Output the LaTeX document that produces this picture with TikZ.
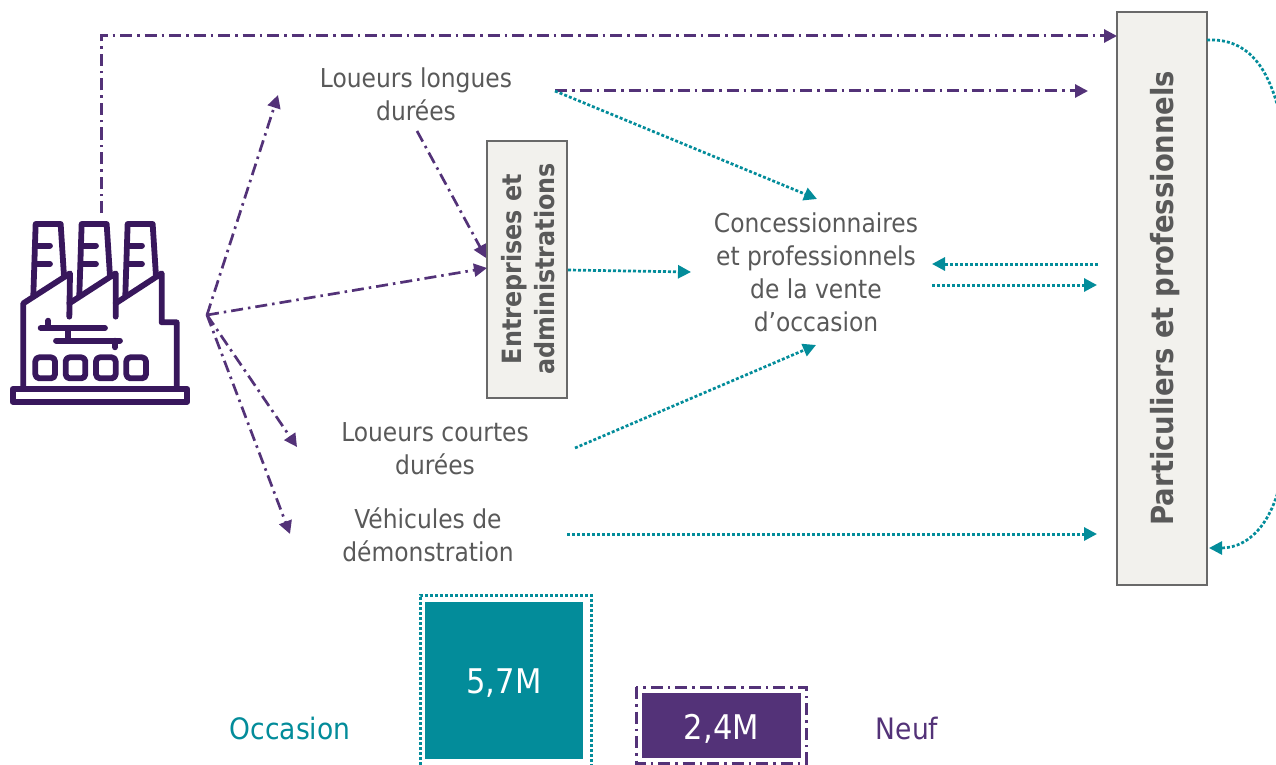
\documentclass[tikz,border=0pt]{standalone}
\usepackage{fontspec}
\setmainfont{DejaVu Sans Condensed}
\usetikzlibrary{arrows.meta}
\definecolor{tealc}{HTML}{038C9A}
\definecolor{purc}{HTML}{533278}
\definecolor{iconc}{HTML}{38175C}
\definecolor{txt}{HTML}{595959}
\definecolor{boxf}{HTML}{F2F1ED}
\definecolor{boxd}{HTML}{696969}
\tikzset{
 purarrow/.style={draw=purc,line width=2.7pt,dash pattern=on 12pt off 5pt on 2.5pt off 5pt,-{Triangle[length=13pt,width=13pt,fill=purc]}},
 purstraight/.style={purarrow,line width=3pt},
 tealarrow/.style={draw=tealc,line width=2.7pt,dash pattern=on 3pt off 2pt,-{Triangle[length=13pt,width=13pt,fill=tealc]}},
 tealstraight/.style={tealarrow,line width=3pt},
 lab/.style={text=txt,align=center,font=\fontsize{26}{33}\selectfont,inner sep=0pt},
 graybox/.style={draw=boxd,fill=boxf,line width=2.6pt,inner sep=0pt,text=txt},
 icon/.style={draw=iconc,line width=5.8pt,line cap=round,line join=round},
 valbox/.style={inner sep=0pt,text=white,font=\fontsize{34}{36}\selectfont},
}
\begin{document}
\begin{tikzpicture}[x=1pt,y=-1pt]
\useasboundingbox (0,0) rectangle (1276,765);
\clip (0,0) rectangle (1276,765);
% boxes
\node[graybox,minimum width=80pt,minimum height=257pt,align=center] (ent) at (527,269.5) {};
\node[rotate=90,text=txt,align=center,font=\fontsize{26.5}{33}\bfseries\selectfont] (entl) at (528,269) {Entreprises et\\administrations};
\node[graybox,minimum width=90pt,minimum height=573pt] (part) at (1162,298.5) {};
\node[rotate=90,text=txt,font=\fontsize{30.5}{35}\bfseries\selectfont] (partl) at (1165,298) {Particuliers et professionnels};
% labels
\node[lab] (llD) at (416,94) {Loueurs longues\\durées};
\node[lab] (conc) at (816,272) {Concessionnaires\\et professionnels\\de la vente\\d’occasion};
\node[lab] (lcD) at (435,449) {Loueurs courtes\\durées};
\node[lab] (vdem) at (428,535) {Véhicules de\\démonstration};
% bottom
\node[fill=tealc,valbox,minimum width=158pt,minimum height=157pt] (occ) at (504,680.5) {\raisebox{0pt}[25pt][0pt]{5,7M}};
\node[fill=purc,valbox,minimum width=159pt,minimum height=65pt] (neu) at (721.5,725.5) {\raisebox{-1.5pt}[25pt][0pt]{2,4M}};
\draw[tealc,line width=3pt,dash pattern=on 3pt off 2pt] (420,770) -- (420,595) -- (591,595) -- (591,770);
\draw[purc,line width=3pt,dash pattern=on 12pt off 5pt on 2.5pt off 5pt] (636,687) rectangle (806,763);
\node[text=tealc,inner sep=0pt,font=\fontsize{29.5}{33}\selectfont] (occl) at (290,728) {Occasion};
\node[text=purc,inner sep=0pt,font=\fontsize{29.5}{33}\selectfont] (neul) at (907,728) {Neuf};
% coordinates
\coordinate (hub) at (207,315);
\coordinate (factop) at (101,213);
\coordinate (corner) at (101,36);
\coordinate (partA) at (1117,36);
\coordinate (partB) at (1088,91);
\coordinate (llE) at (555,91);
\coordinate (llT) at (278,95);
\coordinate (llB) at (417,131);
\coordinate (entW) at (487,268);
\coordinate (entN) at (486,258);
\coordinate (lcE) at (297,447);
\coordinate (vdE) at (290,534);
\coordinate (concN) at (817,199);
\coordinate (concW) at (691,272);
\coordinate (entE) at (568,270);
\coordinate (lcR) at (575,448);
\coordinate (concS) at (816,345);
\coordinate (vdR) at (567,534);
\coordinate (partC) at (1097,534);
\coordinate (pL1) at (1098,264);
\coordinate (cR1) at (932,264);
\coordinate (cR2) at (932,285);
\coordinate (pL2) at (1097,285);
\coordinate (pR1) at (1207,40);
\coordinate (pR2) at (1209,548);
% purple
\draw[purstraight] (factop) -- (corner) -- (partA);
\draw[purstraight] (llE) -- (partB);
\draw[purarrow] (hub) -- (llT);
\draw[purarrow] (hub) -- (entW);
\draw[purarrow] (hub) -- (lcE);
\draw[purarrow] (hub) -- (vdE);
\draw[purarrow] (llB) -- (entN);
% teal
\draw[tealarrow] (llE) -- (concN);
\draw[tealarrow] (entE) -- (concW);
\draw[tealarrow] (lcR) -- (concS);
\draw[tealstraight] (vdR) -- (partC);
\draw[tealstraight] (pL1) -- (cR1);
\draw[tealstraight] (cR2) -- (pL2);
\draw[tealarrow] (pR1) .. controls (1250,38) and (1272,70) .. (1283,130) -- (1285,450) .. controls (1280,520) and (1250,548) .. (pR2);
% factory icon
\begin{scope}[x=0.3333pt,y=-0.3333pt,shift={(0pt,-200pt)}]
 \draw[icon] (38,567) rectangle (562,605);
 \draw[icon] (70,565) -- (70,310) -- (210,220) -- (208,350);
 \draw[icon] (208,310) -- (347,220) -- (347,350);
 \draw[icon] (347,310) -- (485,220) -- (485,367) -- (530,367) -- (530,565);
 \foreach \d in {0,138,276}{
  \draw[icon] (100+\d,285) -- (107+\d,72) -- (182+\d,72) -- (192+\d,228);
  \draw[icon] (110+\d,137) -- (150+\d,137);
  \draw[icon] (110+\d,192) -- (150+\d,192);
 }
 \draw[icon] (122,384) -- (315,384);
 \draw[icon] (168,422) -- (360,422);
 \draw[icon] (145,362) -- (145,384);
 \draw[icon] (205,384) -- (205,422);
 \draw[icon] (345,422) -- (345,442);
 \foreach \d in {0,91,182,273}{
  \draw[icon,rounded corners=4pt] (106+\d,472) rectangle (165+\d,535);
 }
\end{scope}
\end{tikzpicture}
\end{document}
